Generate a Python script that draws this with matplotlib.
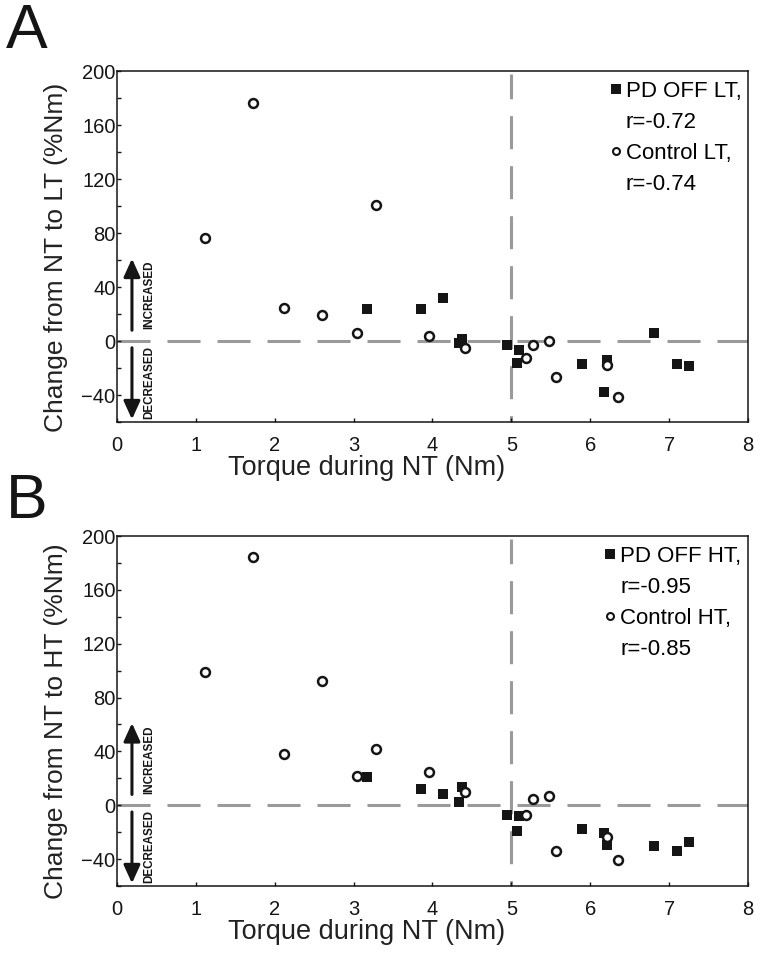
import matplotlib
matplotlib.use("Agg")
import matplotlib.pyplot as plt
from matplotlib.lines import Line2D

plt.rcParams['font.family'] = ['Liberation Sans', 'DejaVu Sans']
plt.rcParams['lines.scale_dashes'] = False

# torque during NT (Nm)
pd_torque = [3.17, 3.86, 4.13, 4.37, 4.34, 4.95, 5.10, 5.07, 5.90, 6.21, 6.17, 6.81, 7.10, 7.25]
ctrl_torque = [1.11, 1.72, 2.12, 2.60, 3.04, 3.29, 3.95, 4.41, 5.19, 5.28, 5.48, 5.56, 6.21, 6.35]

# change from NT (%Nm)
pd_lt = [24, 24, 31.7, 1.8, -1.5, -2.7, -6.9, -16.3, -16.8, -14.3, -38, 6, -16.8, -18.5]
pd_ht = [21, 11.9, 8.4, 13.8, 2.5, -7.4, -8, -19.3, -17.6, -29.7, -20.3, -30.5, -33.7, -27]
ctrl_lt = [76.4, 176.6, 24.3, 19, 5.7, 101, 3.5, -4.9, -12.6, -2.7, -0.2, -26.7, -17.8, -41.5]
ctrl_ht = [99.3, 184.2, 37.9, 92.6, 21.8, 42, 24.5, 9.9, -7.4, 4.4, 7.2, -33.7, -23.5, -40.9]

panel_letters = ["A", "B"]
conditions = ["LT", "HT"]
pd_r = ["-0.72", "-0.95"]
ctrl_r = ["-0.74", "-0.85"]
pd_series = [pd_lt, pd_ht]
ctrl_series = [ctrl_lt, ctrl_ht]

x_ticks = list(range(0, 9))
y_ticks = [-40, 0, 40, 80, 120, 160, 200]
threshold = 5

ink = '#151515'
grey = '#9a9a9a'
dash = (0, (23.8, 12.2))

fig = plt.figure(figsize=(7.62, 9.57), dpi=100)
axes_pos = [[0.1535, 0.5590, 0.8281, 0.3668],
            [0.1535, 0.0742, 0.8281, 0.3657]]
letter_y = [0.9498, 0.4587]

for i in range(2):
    ax = fig.add_axes(axes_pos[i])
    ax.set_xlim(0, 8)
    ax.set_ylim(-60, 200)

    ax.axhline(0, color=grey, lw=2.2, linestyle=dash, zorder=1)
    ax.plot([threshold, threshold], [198, -60], color=grey, lw=2.2,
            linestyle=(6, (23.8, 12.2)), zorder=1)

    ax.plot(pd_torque, pd_series[i], 's', color=ink, ms=7.0, mew=0, zorder=3)
    ax.plot(ctrl_torque, ctrl_series[i], 'o', mfc='white', mec=ink, ms=6.4,
            mew=1.8, zorder=3)

    # increased / decreased arrows
    ax.annotate("", xy=(0.19, 61), xytext=(0.19, 8),
                arrowprops=dict(arrowstyle='-|>,head_length=0.55,head_width=0.25',
                                lw=2.2, color=ink, shrinkA=0, shrinkB=0,
                                mutation_scale=20))
    ax.annotate("", xy=(0.19, -58), xytext=(0.19, -5),
                arrowprops=dict(arrowstyle='-|>,head_length=0.55,head_width=0.25',
                                lw=2.2, color=ink, shrinkA=0, shrinkB=0,
                                mutation_scale=20))
    ax.text(0.41, 34, "INCREASED", rotation=90, ha='center', va='center',
            fontsize=8.4, fontweight='bold', color=ink)
    ax.text(0.41, -31, "DECREASED", rotation=90, ha='center', va='center',
            fontsize=8.4, fontweight='bold', color=ink)

    ax.set_xticks(x_ticks)
    ax.set_yticks(y_ticks)
    ax.set_yticks(range(-60, 201, 20), minor=True)
    ax.tick_params(axis='both', which='both', direction='in', length=2.8,
                   width=1, colors=ink, labelsize=14.5)
    ax.tick_params(axis='x', pad=10)
    ax.tick_params(axis='y', pad=1)
    for s in ax.spines.values():
        s.set_linewidth(1.1)
        s.set_color(ink)

    ax.set_xlabel("Torque during NT (Nm)", fontsize=19.5, color='#222222')
    ax.xaxis.set_label_coords(0.395, -0.093)
    ax.set_ylabel(f"Change from NT to {conditions[i]} (%Nm)", fontsize=19,
                  color='#222222')
    ax.yaxis.set_label_coords(-0.078, 0.47)

    handles = [Line2D([], [], marker='s', ls='none', color=ink, ms=6.5, mew=0),
               Line2D([], [], ls='none'),
               Line2D([], [], marker='o', ls='none', mfc='white', mec=ink,
                      ms=5, mew=1.5),
               Line2D([], [], ls='none')]
    labels = [f"PD OFF {conditions[i]},", f"r={pd_r[i]}",
              f"Control {conditions[i]},", f"r={ctrl_r[i]}"]
    ax.legend(handles, labels, loc='upper right', bbox_to_anchor=(1.0, 0.99),
              frameon=False, fontsize=16, handlelength=0.6, handletextpad=0.15,
              labelspacing=0.45, borderaxespad=0.0, borderpad=0.3)

    fig.text(0.008, letter_y[i], panel_letters[i], fontsize=45, color=ink,
             va='baseline', ha='left')

fig.savefig("out.png", dpi=100)
